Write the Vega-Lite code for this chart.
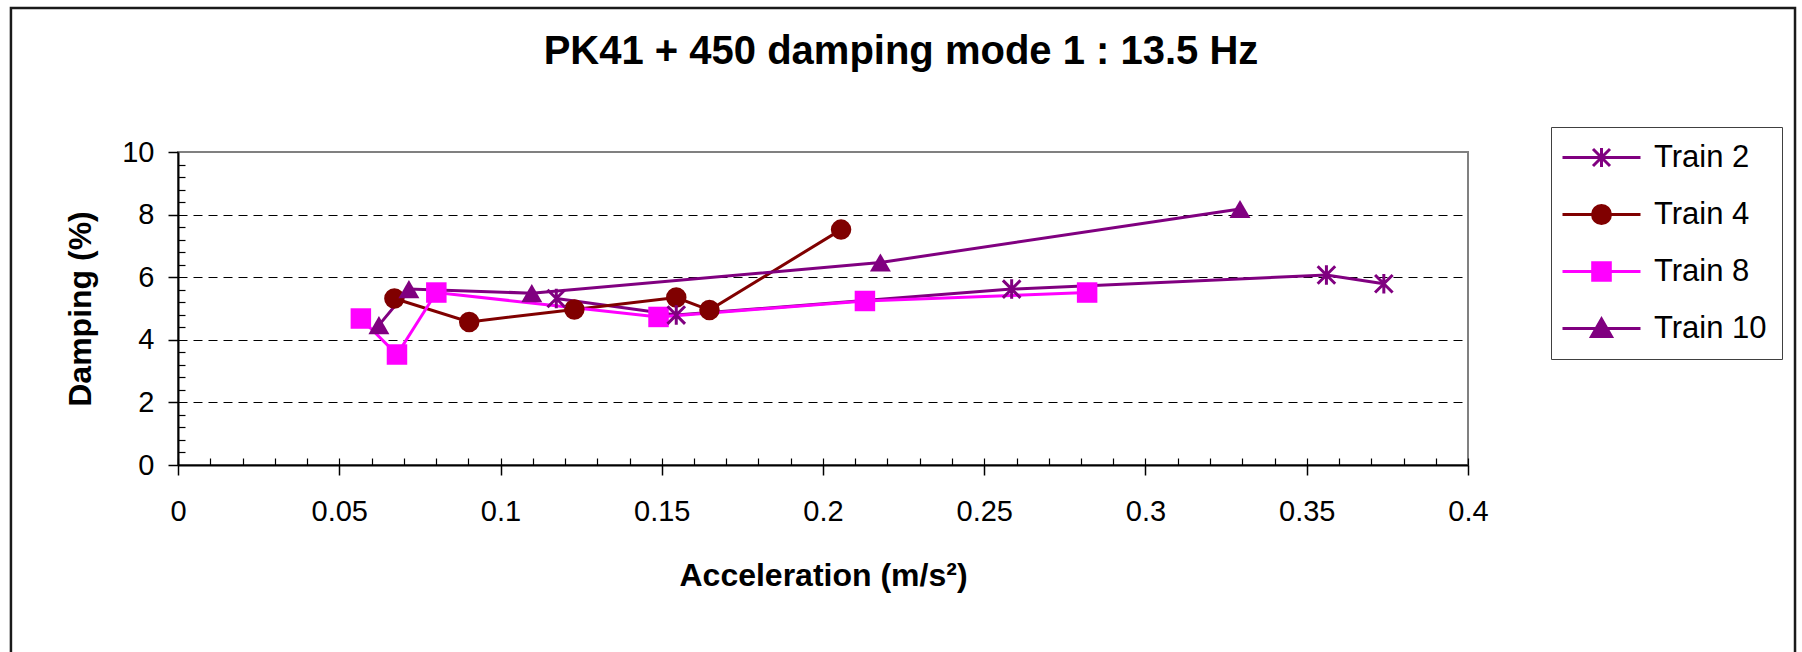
{
  "$schema": "https://vega.github.io/schema/vega-lite/v6.json",
  "width": 1290,
  "height": 313,
  "autosize": {"type": "none"},
  "padding": {"left": 178, "top": 152, "right": 334, "bottom": 187},
  "background": "white",
  "config": {
    "font": "Liberation Sans",
    "view": {"stroke": "#808080", "strokeWidth": 2}
  },
  "title": {
    "text": "PK41 + 450 damping mode 1 : 13.5 Hz",
    "font": "Liberation Sans",
    "fontSize": 40,
    "fontWeight": "bold",
    "color": "black",
    "anchor": "middle",
    "dx": 78,
    "offset": -97,
    "baseline": "alphabetic"
  },
  "data": {
    "values": [
      {"train": "Train 2", "acc": 0.1173, "damping": 5.32},
      {"train": "Train 2", "acc": 0.1545, "damping": 4.79},
      {"train": "Train 2", "acc": 0.2585, "damping": 5.62},
      {"train": "Train 2", "acc": 0.3561, "damping": 6.07},
      {"train": "Train 2", "acc": 0.3739, "damping": 5.79},
      {"train": "Train 4", "acc": 0.0671, "damping": 5.32},
      {"train": "Train 4", "acc": 0.0903, "damping": 4.57},
      {"train": "Train 4", "acc": 0.1229, "damping": 4.97},
      {"train": "Train 4", "acc": 0.1545, "damping": 5.35},
      {"train": "Train 4", "acc": 0.1648, "damping": 4.95},
      {"train": "Train 4", "acc": 0.2056, "damping": 7.52},
      {"train": "Train 8", "acc": 0.0567, "damping": 4.68},
      {"train": "Train 8", "acc": 0.0679, "damping": 3.53},
      {"train": "Train 8", "acc": 0.0801, "damping": 5.51},
      {"train": "Train 8", "acc": 0.149, "damping": 4.73},
      {"train": "Train 8", "acc": 0.213, "damping": 5.24},
      {"train": "Train 8", "acc": 0.2819, "damping": 5.51},
      {"train": "Train 10", "acc": 0.0623, "damping": 4.47},
      {"train": "Train 10", "acc": 0.0716, "damping": 5.62},
      {"train": "Train 10", "acc": 0.1097, "damping": 5.49},
      {"train": "Train 10", "acc": 0.2178, "damping": 6.47},
      {"train": "Train 10", "acc": 0.3293, "damping": 8.18}
    ]
  },
  "layer": [
    {
      "mark": {"type": "line", "strokeWidth": 3},
      "encoding": {
        "x": {
          "field": "acc",
          "type": "quantitative",
          "scale": {"domain": [0, 0.4], "nice": false, "zero": false},
          "axis": {
            "orient": "bottom",
            "title": "Acceleration (m/s²)",
            "values": [0, 0.05, 0.1, 0.15, 0.2, 0.25, 0.3, 0.35, 0.4],
            "format": "~g",
            "grid": false,
            "domainColor": "black",
            "domainWidth": 2,
            "tickColor": "black",
            "tickWidth": 1.5,
            "tickSize": 10,
            "labelFont": "Liberation Sans",
            "labelFontSize": 29,
            "labelColor": "black",
            "labelPadding": 22,
            "labelFlush": false,
            "labelOverlap": false,
            "titleFont": "Liberation Sans",
            "titleFontSize": 32,
            "titleFontWeight": "bold",
            "titleColor": "black",
            "titlePadding": 34
          }
        },
        "y": {
          "field": "damping",
          "type": "quantitative",
          "scale": {"domain": [0, 10], "nice": false},
          "axis": {
            "orient": "left",
            "title": "Damping (%)",
            "values": [0, 2, 4, 6, 8, 10],
            "grid": true,
            "gridColor": "black",
            "gridDash": [9, 6],
            "gridWidth": 1.2,
            "gridOpacity": {"condition": {"test": "datum.value === 0 || datum.value === 10", "value": 0}, "value": 1},
            "domainColor": "black",
            "domainWidth": 2,
            "tickColor": "black",
            "tickWidth": 1.5,
            "tickSize": 10,
            "labelFont": "Liberation Sans",
            "labelFontSize": 29,
            "labelColor": "black",
            "labelPadding": 14,
            "labelFlush": false,
            "labelOverlap": false,
            "titleFont": "Liberation Sans",
            "titleFontSize": 32,
            "titleFontWeight": "bold",
            "titleColor": "black",
            "titlePadding": 24
          }
        },
        "color": {
          "field": "train",
          "type": "nominal",
          "scale": {
            "domain": ["Train 2", "Train 4", "Train 8", "Train 10"],
            "range": ["#800080", "#800000", "#FF00FF", "#800080"]
          },
          "legend": {
            "title": null,
            "orient": "none",
            "legendX": 1373,
            "legendY": -25,
            "padding": 15,
            "strokeColor": "#404040",
            "fillColor": "white",
            "symbolSize": 400,
            "symbolOffset": 20,
            "labelOffset": 37,
            "rowPadding": 25,
            "labelFont": "Liberation Sans",
            "labelFontSize": 31,
            "labelColor": "black",
            "encode": {
              "symbols": {
                "update": {
                  "shape": {"signal": "datum.value === 'Train 2' ? 'M-3.9,0L3.9,0M0,-0.95L0,0.95M-0.85,-0.85L0.85,0.85M-0.85,0.85L0.85,-0.85' : datum.value === 'Train 4' ? 'M-3.9,0L3.9,0M-0.9,0A0.9,0.9,0,1,0,0.9,0A0.9,0.9,0,1,0,-0.9,0Z' : datum.value === 'Train 8' ? 'M-3.9,0L3.9,0M-0.88,-0.88H0.88V0.88H-0.88Z' : 'M-3.9,0L3.9,0M0,-0.95L1,0.8H-1Z'"},
                  "fill": {"scale": "color", "field": "value"},
                  "stroke": {"scale": "color", "field": "value"},
                  "strokeWidth": {"value": 3},
                  "size": {"value": 400},
                  "opacity": {"value": 1}
                }
              }
            }
          }
        }
      }
    },
    {
      "transform": [{"filter": "datum.train === 'Train 4'"}],
      "mark": {"type": "point", "shape": "circle", "filled": true, "size": 420, "opacity": 1},
      "encoding": {
        "x": {"field": "acc", "type": "quantitative", "axis": null},
        "y": {"field": "damping", "type": "quantitative", "axis": null},
        "color": {"field": "train", "type": "nominal", "legend": null}
      }
    },
    {
      "transform": [{"filter": "datum.train === 'Train 8'"}],
      "mark": {"type": "point", "shape": "square", "filled": true, "size": 420, "opacity": 1},
      "encoding": {
        "x": {"field": "acc", "type": "quantitative", "axis": null},
        "y": {"field": "damping", "type": "quantitative", "axis": null},
        "color": {"field": "train", "type": "nominal", "legend": null}
      }
    },
    {
      "transform": [{"filter": "datum.train === 'Train 10'"}],
      "mark": {"type": "point", "shape": "triangle-up", "filled": true, "size": 440, "opacity": 1},
      "encoding": {
        "x": {"field": "acc", "type": "quantitative", "axis": null},
        "y": {"field": "damping", "type": "quantitative", "axis": null},
        "color": {"field": "train", "type": "nominal", "legend": null}
      }
    },
    {
      "transform": [{"filter": "datum.train === 'Train 2'"}],
      "mark": {"type": "point", "shape": "M0,-1L0,1M-0.9,-0.9L0.9,0.9M-0.9,0.9L0.9,-0.9", "filled": false, "size": 380, "strokeWidth": 3, "opacity": 1},
      "encoding": {
        "x": {"field": "acc", "type": "quantitative", "axis": null},
        "y": {"field": "damping", "type": "quantitative", "axis": null},
        "color": {"field": "train", "type": "nominal", "legend": null}
      }
    },
    {
      "data": {"values": [{"frame": "chart area"}]},
      "mark": {"type": "rect", "fill": "transparent", "stroke": "#1a1a1a", "strokeWidth": 2.5},
      "encoding": {
        "x": {
          "datum": -0.0518,
          "type": "quantitative",
          "axis": {
            "orient": "bottom",
            "title": null,
            "values": [0, 0.01, 0.02, 0.03, 0.04, 0.05, 0.06, 0.07, 0.08, 0.09, 0.1, 0.11, 0.12, 0.13, 0.14, 0.15, 0.16, 0.17, 0.18, 0.19, 0.2, 0.21, 0.22, 0.23, 0.24, 0.25, 0.26, 0.27, 0.28, 0.29, 0.3, 0.31, 0.32, 0.33, 0.34, 0.35, 0.36, 0.37, 0.38, 0.39, 0.4],
            "labels": false,
            "domain": false,
            "grid": false,
            "tickColor": "black",
            "tickWidth": 1.2,
            "tickSize": -7
          }
        },
        "x2": {"datum": 0.5014},
        "y": {
          "datum": 14.6,
          "type": "quantitative",
          "axis": {
            "orient": "left",
            "title": null,
            "values": [0.4, 0.8, 1.2, 1.6, 2.4, 2.8, 3.2, 3.6, 4.4, 4.8, 5.2, 5.6, 6.4, 6.8, 7.2, 7.6, 8.4, 8.8, 9.2, 9.6],
            "labels": false,
            "domain": false,
            "grid": false,
            "tickColor": "black",
            "tickWidth": 1.2,
            "tickSize": -7
          }
        },
        "y2": {"datum": -7.5}
      }
    }
  ],
  "resolve": {"axis": {"x": "independent", "y": "independent"}}
}
